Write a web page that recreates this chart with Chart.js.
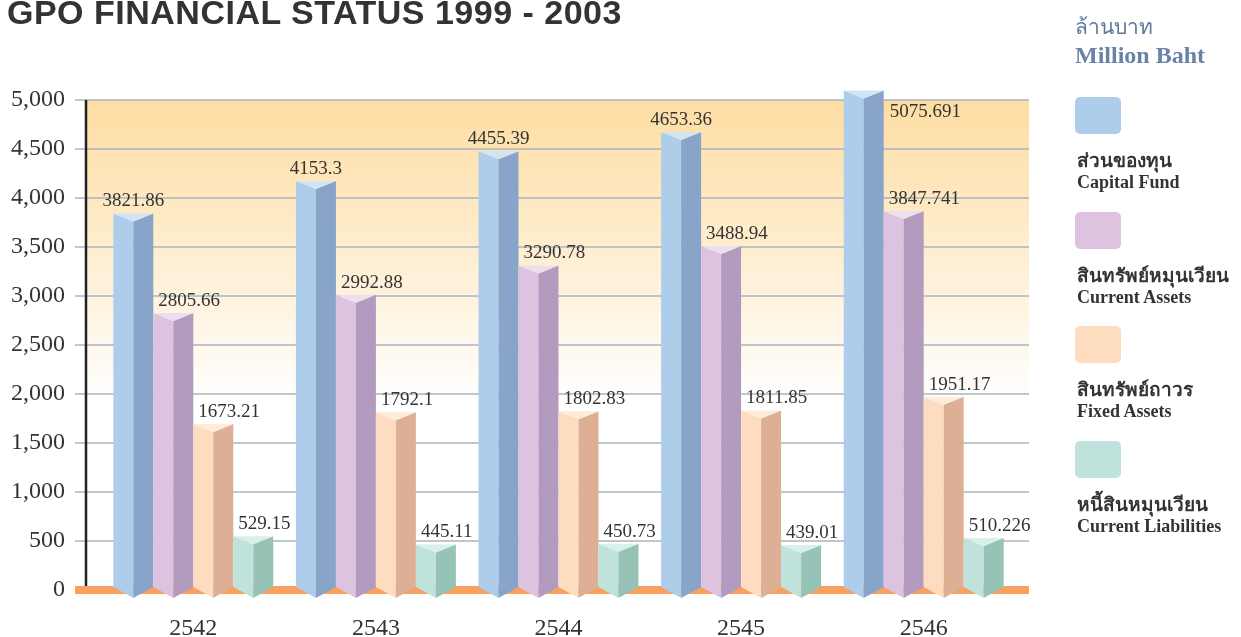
<!DOCTYPE html>
<html>
<head>
<meta charset="utf-8">
<script src="https://cdn.jsdelivr.net/npm/chart.js@4"></script>
<style>
  body { margin: 0; background: #fff; }
  #wrap { position: relative; width: 1241px; height: 637px; overflow: hidden; }
  #chart { position: absolute; left: 0; top: 5px; }
  #title { position: absolute; left: 7px; top: -5px; font: bold 34px "Liberation Sans", Arial, sans-serif; letter-spacing: 0.5px; line-height: 34px; color: #333; white-space: nowrap; }
  .unit-th { position: absolute; left: 1075px; top: 10px; font: 21px "Liberation Serif", serif; color: #5f789e; }
  .unit-en { position: absolute; left: 1075px; top: 42px; font: bold 24px "Liberation Serif", serif; color: #6a82a6; }
  .sw { position: absolute; left: 1075px; width: 46px; height: 37px; border-radius: 5px; }
  .lth { position: absolute; left: 1077px; font: bold 19px "Liberation Serif", serif; color: #333; white-space: nowrap; }
  .len { position: absolute; left: 1077px; font: bold 18px "Liberation Serif", serif; color: #333; white-space: nowrap; }
</style>
</head>
<body>
<div id="wrap">
  <canvas id="chart" width="1241" height="637"></canvas>
  <div id="title">GPO FINANCIAL STATUS 1999 - 2003</div>
  <div class="unit-th">ล้านบาท</div>
  <div class="unit-en">Million Baht</div>
  <div id="legend"></div>
</div>
<script>
const years = ['2542', '2543', '2544', '2545', '2546'];
const capitalFund = [3821.86, 4153.3, 4455.39, 4653.36, 5075.691];
const currentAssets = [2805.66, 2992.88, 3290.78, 3488.94, 3847.741];
const fixedAssets = [1673.21, 1792.1, 1802.83, 1811.85, 1951.17];
const currentLiabilities = [529.15, 445.11, 450.73, 439.01, 510.226];

const thaiNames = ['ส่วนของทุน', 'สินทรัพย์หมุนเวียน', 'สินทรัพย์ถาวร', 'หนี้สินหมุนเวียน'];
const engNames = ['Capital Fund', 'Current Assets', 'Fixed Assets', 'Current Liabilities'];

// left face, right face, top cap
const faces = [
  ['#aecdeb', '#88a4c8', '#d2e3f4'],
  ['#ddc3df', '#b39abf', '#ecdfee'],
  ['#fddcc0', '#ddb095', '#feecdb'],
  ['#bfe3dc', '#97c3b6', '#d8efeb']
];

// legend
const legend = document.getElementById('legend');
engNames.forEach((name, i) => {
  const top = 97 + i * 114.6;
  legend.insertAdjacentHTML('beforeend',
    `<div class="sw" style="top:${top}px;background:${faces[i][0]}"></div>` +
    `<div class="lth" style="top:${top + 48}px">${thaiNames[i]}</div>` +
    `<div class="len" style="top:${top + 75}px">${name}</div>`);
});

const prism = {
  id: 'prism',
  beforeDatasetsDraw(chart) {
    const { ctx, chartArea: a, scales: { y } } = chart;
    const left = a.left - 16, right = a.right + 14;
    const top = y.getPixelForValue(5000), zero = y.getPixelForValue(0);
    ctx.save();
    const g = ctx.createLinearGradient(0, top, 0, zero);
    g.addColorStop(0, '#fedda2');
    g.addColorStop(0.62, '#ffffff');
    ctx.fillStyle = g;
    ctx.fillRect(left, top, right - left, zero - top);
    // grid lines
    ctx.strokeStyle = '#a9b5c0';
    ctx.lineWidth = 1.5;
    y.ticks.forEach(t => {
      const py = y.getPixelForValue(t.value);
      ctx.beginPath();
      ctx.moveTo(left - 11, py);
      ctx.lineTo(right, py);
      ctx.stroke();
    });
    // y axis line
    ctx.strokeStyle = '#222';
    ctx.lineWidth = 2.5;
    ctx.beginPath();
    ctx.moveTo(left, top);
    ctx.lineTo(left, zero - 4);
    ctx.stroke();
    // orange base
    ctx.fillStyle = '#f9a05f';
    ctx.fillRect(left - 11, zero - 4, right - left + 11, 8);
    ctx.restore();
  },
  beforeDatasetDraw() {
    return false;
  },
  afterDatasetsDraw(chart) {
    const { ctx, chartArea: a } = chart;
    ctx.save();
    chart.data.datasets.forEach((ds, i) => {
      const [cl, cr, ct] = faces[i];
      chart.getDatasetMeta(i).data.forEach(bar => {
        const l = bar.x - bar.width / 2, r = bar.x + bar.width / 2, m = bar.x;
        const t = bar.y - 2, ridge = bar.y + 6;
        const b = bar.base - 3, bRidge = bar.base + 8;
        ctx.fillStyle = cl;
        ctx.beginPath();
        ctx.moveTo(l, t); ctx.lineTo(m, ridge); ctx.lineTo(m, bRidge); ctx.lineTo(l, b);
        ctx.closePath(); ctx.fill();
        ctx.fillStyle = cr;
        ctx.beginPath();
        ctx.moveTo(m, ridge); ctx.lineTo(r, t); ctx.lineTo(r, b); ctx.lineTo(m, bRidge);
        ctx.closePath(); ctx.fill();
        ctx.fillStyle = ct;
        ctx.beginPath();
        ctx.moveTo(l, t); ctx.lineTo(r, t); ctx.lineTo(m, ridge);
        ctx.closePath(); ctx.fill();
      });
    });
    // value labels
    ctx.font = '19px "Liberation Serif", serif';
    ctx.fillStyle = '#333';
    ctx.textBaseline = 'middle';
    chart.data.datasets.forEach((ds, i) => {
      chart.getDatasetMeta(i).data.forEach((bar, j) => {
        const txt = String(ds.data[j]);
        let x, yy = bar.y - 14;
        if (yy - 10 < a.top) {
          ctx.textAlign = 'left';
          x = bar.x + bar.width / 2 + 6;
          yy = bar.y + 19;
        } else if (i === 0) {
          ctx.textAlign = 'center';
          x = bar.x;
        } else {
          ctx.textAlign = 'left';
          x = bar.x - bar.width / 2 + 5;
        }
        ctx.fillText(txt, x, yy);
      });
    });
    ctx.restore();
  }
};

const series = [capitalFund, currentAssets, fixedAssets, currentLiabilities];

new Chart(document.getElementById('chart'), {
  type: 'bar',
  data: {
    labels: years,
    datasets: series.map((d, i) => ({
      label: engNames[i],
      data: d,
      backgroundColor: faces[i][0],
      categoryPercentage: 0.876,
      barPercentage: 1
    }))
  },
  options: {
    responsive: false,
    animation: false,
    layout: { padding: { top: 95, right: 226, left: 0, bottom: 0 } },
    plugins: { legend: { display: false }, tooltip: { enabled: false } },
    scales: {
      x: {
        grid: { display: false, drawTicks: false },
        border: { display: false },
        ticks: { color: '#333', font: { family: 'Liberation Serif', size: 24 }, padding: 24 },
        afterFit: s => { s.height = 52; }
      },
      y: {
        min: 0,
        max: 5000,
        grid: { display: false, drawTicks: false },
        border: { display: false },
        ticks: { stepSize: 500, color: '#333', font: { family: 'Liberation Serif', size: 24 }, padding: 37 },
        afterFit: s => { s.width = 102; }
      }
    }
  },
  plugins: [prism]
});
</script>
</body>
</html>
